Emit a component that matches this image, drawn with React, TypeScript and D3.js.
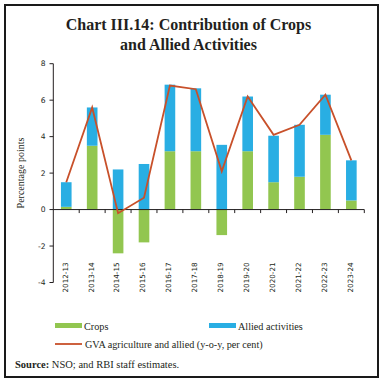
import React from 'react';
import * as d3 from 'd3';

const years = ['2012-13','2013-14','2014-15','2015-16','2016-17','2017-18','2018-19','2019-20','2020-21','2021-22','2022-23','2023-24'];
const crops = [0.15, 3.5, -2.4, -1.8, 3.2, 3.2, -1.4, 3.2, 1.5, 1.8, 4.1, 0.5];
const allied = [1.35, 2.1, 2.2, 2.5, 3.65, 3.45, 3.55, 3.0, 2.55, 2.85, 2.2, 2.2];
const gva = [1.5, 5.6, -0.2, 0.65, 6.8, 6.6, 2.1, 6.2, 4.1, 4.65, 6.3, 2.7];
const yTicks = [-4, -2, 0, 2, 4, 6, 8];

const GREEN = '#92c650';
const BLUE = '#29aee3';
const RED = '#c8502a';
const AXIS_FONT = 'DejaVu Sans, Verdana, sans-serif';
const SERIF = 'Liberation Serif, DejaVu Serif, serif';

export default function App() {
  const x = d3.scaleBand<string>().domain(years).range([53.3, 364.3]);
  const y = d3.scaleLinear().domain([-4, 8]).range([282.5, 63.7]);
  const bw = x.bandwidth() * 0.41;

  const rows = years.map((yr, i) => ({ year: yr, crops: crops[i], allied: allied[i] }));
  const stack = d3.stack<any>().keys(['crops', 'allied']).offset(d3.stackOffsetDiverging);
  const series = stack(rows);
  const colors: Record<string, string> = { crops: GREEN, allied: BLUE };

  const line = d3.line<number>()
    .x((_, i) => (x(years[i]) as number) + x.bandwidth() / 2)
    .y((d) => y(d));

  const boundaries = years.map((yr) => (x(yr) as number) + x.bandwidth());

  return (
    <div style={{ position: 'absolute', left: 0, top: 0 }}>
      <svg width={383} height={385} style={{ display: 'block', background: '#fff' }}>
        <rect x={5} y={5} width={373} height={372} fill="none" stroke="#1a1a1a" strokeWidth={2} />
        <text x={188.5} y={30} textAnchor="middle" fontFamily={SERIF} fontWeight="bold" fontSize={16} fill="#231f20">
          Chart III.14: Contribution of Crops
        </text>
        <text x={188.5} y={50} textAnchor="middle" fontFamily={SERIF} fontWeight="bold" fontSize={16} fill="#231f20">
          and Allied Activities
        </text>

        {series.map((s) => (
          <g key={s.key} fill={colors[s.key]}>
            {s.map((d, i) => (
              <rect key={i}
                x={(x(years[i]) as number) + (x.bandwidth() - bw) / 2}
                y={y(Math.max(d[0], d[1]))}
                width={bw}
                height={Math.abs(y(d[0]) - y(d[1]))} />
            ))}
          </g>
        ))}

        {/* y axis */}
        <line x1={53.3} x2={53.3} y1={y(8)} y2={y(-4)} stroke="#231f20" strokeWidth={1} />
        {yTicks.map((t) => (
          <g key={t}>
            <line x1={49.5} x2={53.3} y1={y(t)} y2={y(t)} stroke="#231f20" strokeWidth={1} />
            <text x={45.5} y={y(t)} dy="0.35em" textAnchor="end" fontFamily={AXIS_FONT} fontSize={7.6} fill="#231f20">{t}</text>
          </g>
        ))}
        {/* zero line */}
        <line x1={53.3} x2={364.3} y1={y(0)} y2={y(0)} stroke="#231f20" strokeWidth={1} />
        {boundaries.map((b, i) => (
          <line key={i} x1={b} x2={b} y1={y(0)} y2={y(0) + 3.5} stroke="#231f20" strokeWidth={1} />
        ))}
        {years.map((yr) => {
          const cx = (x(yr) as number) + x.bandwidth() / 2 + 1.4;
          return (
            <text key={yr} transform={`translate(${cx},292.5) rotate(-90)`} textAnchor="start"
              fontFamily={AXIS_FONT} fontSize={7.2} fill="#231f20">{yr}</text>
          );
        })}

        <path d={line(gva) || ''} fill="none" stroke={RED} strokeWidth={1.8} />

        <text transform="translate(24,173) rotate(-90)" textAnchor="middle" fontFamily={SERIF} fontSize={10} fill="#231f20">
          Percentage points
        </text>

        {/* legend */}
        <rect x={55} y={323} width={27} height={5} fill={GREEN} />
        <text x={84} y={329.5} fontFamily={SERIF} fontSize={10.2} fill="#231f20">Crops</text>
        <rect x={209} y={323} width={27} height={5} fill={BLUE} />
        <text x={238} y={329.5} fontFamily={SERIF} fontSize={10.2} fill="#231f20">Allied activities</text>
        <line x1={55} x2={82} y1={344} y2={344} stroke={RED} strokeWidth={1.8} />
        <text x={85} y={347.5} fontFamily={SERIF} fontSize={10.2} fill="#231f20">GVA agriculture and allied (y-o-y, per cent)</text>

        <text x={15} y={367.5} fontFamily={SERIF} fontSize={10.5} fill="#231f20">
          <tspan fontWeight="bold">Source:</tspan> NSO; and RBI staff estimates.
        </text>
      </svg>
    </div>
  );
}
